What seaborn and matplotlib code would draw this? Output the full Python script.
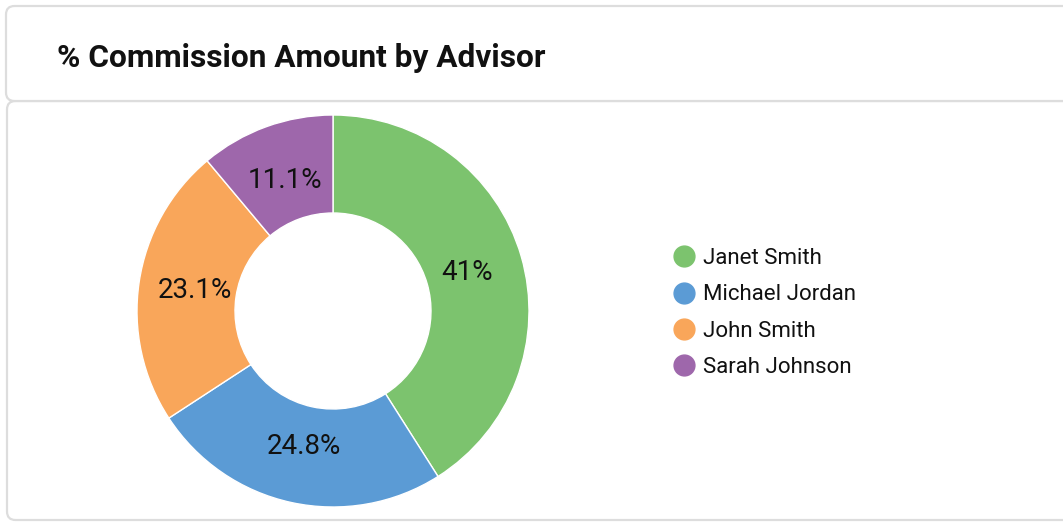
import numpy as np
import seaborn as sns
import matplotlib.pyplot as plt
from matplotlib.patches import FancyBboxPatch
from matplotlib.lines import Line2D

advisors = ["Janet Smith", "Michael Jordan", "John Smith", "Sarah Johnson"]
commission_pct = [41, 24.8, 23.1, 11.1]
slice_colors = ["#7cc36e", "#5b9bd5", "#f9a65a", "#9e67ab"]
title = "% Commission Amount by Advisor"

W, H = 1063, 523

sns.set_theme(style="white")
plt.rcParams["font.family"] = ["Roboto", "DejaVu Sans"]

fig = plt.figure(figsize=(W / 100, H / 100), dpi=100)
fig.patch.set_facecolor("white")


def px_box(x0, y0, x1, y1):
    # pixel coords (top-left origin) -> figure fraction
    return x0 / W, 1 - y1 / H, (x1 - x0) / W, (y1 - y0) / H


# card body and header, kept behind the donut
for (x0, y0, x1, y1) in [(7, 101, W + 20, 520), (6, 6, W + 20, 101)]:
    bx, by, bw, bh = px_box(x0, y0, x1, y1)
    card = FancyBboxPatch(
        (bx, by), bw, bh,
        boxstyle="round,pad=0,rounding_size=0.008",
        transform=fig.transFigure,
        facecolor="white", edgecolor="#dddddd", linewidth=1.6,
        mutation_aspect=W / H, zorder=-10,
    )
    fig.patches.append(card)

fig.text(57 / W, 1 - 58 / H, title, fontsize=22.8, fontweight="bold",
         color="#111111", ha="left", va="center")

# donut
cx, cy, r = 333, 311, 196
ax = fig.add_axes(px_box(cx - r, cy - r, cx + r, cy + r))
ax.patch.set_alpha(0)
wedges, _, pct_texts = ax.pie(
    commission_pct,
    colors=slice_colors,
    startangle=90,
    counterclock=False,
    autopct=lambda p: f"{p:.3g}%",
    pctdistance=0.71,
    wedgeprops={"width": 0.5, "edgecolor": "white", "linewidth": 1},
    textprops={"fontsize": 20, "color": "#111111"},
)
ax.set_xlim(-1, 1)
ax.set_ylim(-1, 1)
ax.set_aspect("equal")
ax.set_axis_off()

handles = [
    Line2D([], [], marker="o", linestyle="", markersize=15,
           markerfacecolor=c, markeredgecolor=c, label=name)
    for name, c in zip(advisors, slice_colors)
]
leg = fig.legend(
    handles=handles,
    loc="center left",
    bbox_to_anchor=(653 / W, 1 - 313 / H),
    frameon=False,
    fontsize=16,
    handletextpad=0.36,
    labelspacing=0.69,
    handlelength=1.0,
)
for t in leg.get_texts():
    t.set_color("#111111")

plt.savefig("out.png", dpi=100, facecolor="white")
